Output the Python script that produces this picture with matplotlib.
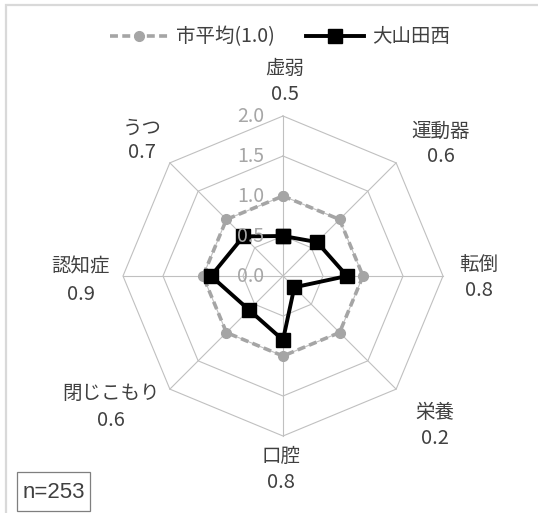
import numpy as np
import matplotlib
matplotlib.use("Agg")
import matplotlib.pyplot as plt
from matplotlib.patches import Rectangle
from matplotlib.transforms import offset_copy

plt.rcParams['font.family'] = ['Noto Sans CJK JP', 'DejaVu Sans']

# data
categories = ["虚弱", "運動器", "転倒", "栄養", "口腔", "閉じこもり", "認知症", "うつ"]
area_values = [0.5, 0.6, 0.8, 0.2, 0.8, 0.6, 0.9, 0.7]
city_values = [1.0, 1.0, 1.0, 1.0, 1.0, 1.0, 1.0, 1.0]
area_name = "大山田西"
city_name = "市平均(1.0)"
r_ticks = [0.0, 0.5, 1.0, 1.5, 2.0]
n_text = "n=253"

# label positions in pixels (x centre, y of name, y of value)
label_pos = [(285, 68, 94), (441, 131, 156), (479, 264, 290), (435, 413, 438),
             (281, 456, 483), (111, 393, 421), (81, 267, 295), (142, 128, 152)]

W, H = 538, 513
fig = plt.figure(figsize=(W / 100, H / 100), dpi=100)

def px(x, y):
    return x / W, 1 - y / H

# outer frame (only top / left visible)
fig.patches.append(Rectangle(px(6, 560), 600 / W, (560 - 5) / H, transform=fig.transFigure,
                             fill=False, edgecolor="#d9d9d9", linewidth=1.6))

cx, cy, R = 283, 276, 160
ax = fig.add_axes([(cx - R) / W, (H - cy - R) / H, 2 * R / W, 2 * R / H], projection="polar")
ax.set_theta_offset(np.pi / 2)
ax.set_theta_direction(-1)
ax.set_ylim(0, 2)
ax.grid(False)
ax.set_xticks([])
ax.set_yticks([])
ax.spines['polar'].set_visible(False)
ax.patch.set_alpha(0)

n = len(categories)
ang = np.linspace(0, 2 * np.pi, n, endpoint=False)
ang_c = np.append(ang, ang[0])

grid_col = "#c0c0c0"
for lv in r_ticks[1:]:
    ax.plot(ang_c, [lv] * (n + 1), color=grid_col, lw=0.8, zorder=1, clip_on=False)
for a in ang:
    ax.plot([a, a], [0, r_ticks[-1]], color=grid_col, lw=0.8, zorder=1, clip_on=False)

city = np.append(city_values, city_values[0])
area = np.append(area_values, area_values[0])
l1, = ax.plot(ang_c, city, color="#a5a5a5", lw=2.6, dashes=(2.2, 1.2), marker="o",
              markersize=7, zorder=3, clip_on=False, label=city_name)
l2, = ax.plot(ang_c, area, color="black", lw=2.8, marker="s", markersize=10.5,
              zorder=4, clip_on=False, label=area_name)

tr = offset_copy(ax.transData, fig=fig, x=-19, y=0, units="dots")
for lv in r_ticks:
    ax.text(0, lv, f"{lv:.1f}", transform=tr, ha="right", va="center",
            fontsize=14, color="#a6a6a6", zorder=6)

txt_col = "#404040"
for name, val, (x, y1, y2) in zip(categories, area_values, label_pos):
    fig.text(*px(x, y1), name, ha="center", va="center", fontsize=14, color=txt_col)
    fig.text(*px(x, y2), f"{val:.1f}", ha="center", va="center", fontsize=14.5, color=txt_col)

fig.legend(handles=[l1, l2], loc="center", bbox_to_anchor=px(280, 37), ncol=2,
           frameon=False, handlelength=3, handletextpad=0.4, columnspacing=1.6,
           prop={"size": 14}, labelcolor=txt_col)

# n box
fig.patches.append(Rectangle(px(17, 511), 73 / W, 39 / H, transform=fig.transFigure,
                             facecolor="white", edgecolor="#7f7f7f", linewidth=0.9))
fig.text(*px(54, 492), n_text, ha="center", va="center", fontsize=16, color=txt_col,
         family="Liberation Sans")

fig.savefig("out.png", dpi=100)
